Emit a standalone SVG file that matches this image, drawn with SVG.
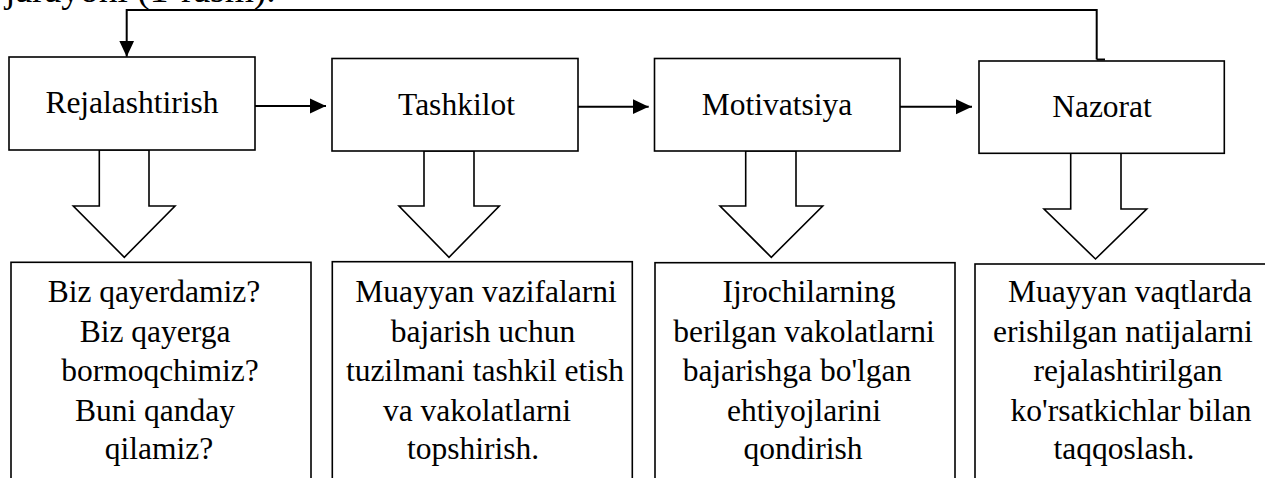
<svg xmlns="http://www.w3.org/2000/svg" width="1265" height="478" viewBox="0 0 1265 478">
<style>
  .box { fill: #ffffff; stroke: #000000; stroke-width: 1.6; }
  .blk { fill: #ffffff; stroke: #000000; stroke-width: 1.6; stroke-linejoin: miter; }
  .ln { fill: none; stroke: #000000; stroke-width: 2; }
  .t { font-family: "Liberation Serif", "Times New Roman", serif; font-size: 31.5px; fill: #000000; text-anchor: middle; }
  .pg { font-family: "Liberation Serif", "Times New Roman", serif; font-size: 37.5px; fill: #000000; }
</style>
<defs>
  <marker id="ah" markerWidth="16" markerHeight="16" refX="16" refY="8" orient="auto" markerUnits="userSpaceOnUse" viewBox="0 0 16 16">
    <path d="M0,0.5 L16,8 L0,15.5 Z" fill="#000000"/>
  </marker>
</defs>

<text class="pg" x="5" y="1.5">jarayoni (1-rasm).</text>

<g id="connectors">
  <path class="ln" d="M1096.7,59.5 L1096.7,10 L126.7,10 L126.7,56.7" marker-end="url(#ah)"/>
  <path class="ln" d="M1096.7,59.5 L1105,59.5"/>
  <path class="ln" d="M255,106 L326,106" marker-end="url(#ah)"/>
  <path class="ln" d="M578,106.7 L648.7,106.7" marker-end="url(#ah)"/>
  <path class="ln" d="M900,106.7 L972,106.7" marker-end="url(#ah)"/>
  <polygon id="down1" class="blk" points="99.3,150 149,150 149,206 175,206 124.3,257.3 73.3,206 99.3,206"/>
  <polygon id="down2" class="blk" points="424,151 474,151 474,206 499.3,206 449,257.3 399,206 424,206"/>
  <polygon id="down3" class="blk" points="745.7,151 796,151 796,206 822.7,206 771.3,257.3 720,206 745.7,206"/>
  <polygon id="down4" class="blk" points="1070.7,153.3 1121,153.3 1121,209 1146.7,209 1095.5,259 1044,209 1070.7,209"/>
</g>

<g id="rejalashtirish">
  <rect class="box" x="9" y="57" width="246" height="93"/>
  <text class="t" x="132" y="113.3">Rejalashtirish</text>
</g>
<g id="tashkilot">
  <rect class="box" x="332" y="58.5" width="246" height="92.5"/>
  <text class="t" x="456.5" y="115">Tashkilot</text>
</g>
<g id="motivatsiya">
  <rect class="box" x="654.5" y="58.5" width="245.5" height="92.5"/>
  <text class="t" x="777" y="115">Motivatsiya</text>
</g>
<g id="nazorat">
  <rect class="box" x="979" y="61" width="245.3" height="92.3"/>
  <text class="t" x="1102" y="117.3">Nazorat</text>
</g>

<g id="desc1">
  <rect class="box" x="11" y="262.3" width="300" height="230"/>
  <text class="t" x="154" y="302">Biz qayerdamiz?</text>
  <text class="t" x="155" y="341.5">Biz qayerga</text>
  <text class="t" x="160" y="380.7">bormoqchimiz?</text>
  <text class="t" x="155" y="420.5">Buni qanday</text>
  <text class="t" x="159" y="458.5">qilamiz?</text>
</g>
<g id="desc2">
  <rect class="box" x="332.3" y="261.7" width="300" height="230"/>
  <text class="t" x="486" y="302">Muayyan vazifalarni</text>
  <text class="t" x="483" y="341.5">bajarish uchun</text>
  <text class="t" x="485" y="380.7">tuzilmani tashkil etish</text>
  <text class="t" x="477" y="420.5">va vakolatlarni</text>
  <text class="t" x="473" y="458.5">topshirish.</text>
</g>
<g id="desc3">
  <rect class="box" x="655" y="262.7" width="300" height="230"/>
  <text class="t" x="809" y="302">Ijrochilarning</text>
  <text class="t" x="804" y="341.5">berilgan vakolatlarni</text>
  <text class="t" x="797" y="380.7">bajarishga bo'lgan</text>
  <text class="t" x="804" y="420.5">ehtiyojlarini</text>
  <text class="t" x="803" y="458.5">qondirish</text>
</g>
<g id="desc4">
  <rect class="box" x="975" y="264" width="310" height="230"/>
  <text class="t" x="1130" y="302">Muayyan vaqtlarda</text>
  <text class="t" x="1123" y="341.5">erishilgan natijalarni</text>
  <text class="t" x="1128" y="380.7">rejalashtirilgan</text>
  <text class="t" x="1131" y="420.5">ko'rsatkichlar bilan</text>
  <text class="t" x="1124" y="458.5">taqqoslash.</text>
</g>
</svg>
